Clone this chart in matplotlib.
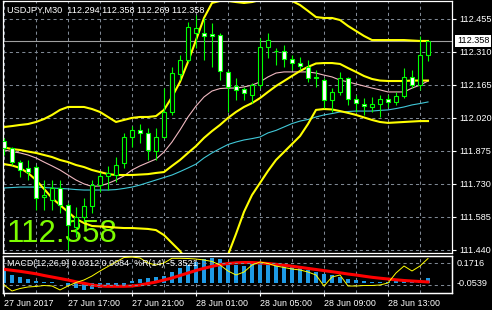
import matplotlib
matplotlib.use('Agg')
import matplotlib.pyplot as plt
import matplotlib.transforms as mtransforms
import numpy as np

# ---------------- data ----------------
symbol_header = "USDJPY,M30  112.294 112.358 112.269 112.358"
macd_header = "MACD(12,26,9) 0.0312 0.0084  %R(14) -5.3521"
last_price = 112.358
time_labels = ["27 Jun 2017", "27 Jun 17:00", "27 Jun 21:00", "28 Jun 01:00",
               "28 Jun 05:00", "28 Jun 09:00", "28 Jun 13:00"]
time_label_idx = [0, 8, 16, 24, 32, 40, 48]
price_ticks = [112.455, 112.310, 112.165, 112.020, 111.875, 111.730, 111.585, 111.440]
sub_labels = ["0.1716", "-0.0539"]

opens = [111.917, 111.887, 111.825, 111.799, 111.803, 111.671, 111.658, 111.711, 111.636, 111.540,
         111.584, 111.632, 111.724, 111.764, 111.768, 111.821, 111.935, 111.964, 111.953, 111.874,
         111.935, 112.045, 112.212, 112.273, 112.392, 112.394, 112.388, 112.385, 112.221, 112.159,
         112.146, 112.120, 112.163, 112.332, 112.315, 112.313, 112.276, 112.262, 112.244, 112.199,
         112.185, 112.098, 112.133, 112.196, 112.100, 112.082, 112.069, 112.080, 112.104, 112.087,
         112.115, 112.199, 112.163, 112.294]
highs = [111.931, 111.891, 111.834, 111.834, 111.812, 111.746, 111.746, 111.746, 111.645, 111.627,
         111.667, 111.746, 111.781, 111.808, 111.847, 111.953, 111.983, 111.992, 111.975, 111.975,
         112.150, 112.243, 112.295, 112.440, 112.471, 112.458, 112.436, 112.392, 112.229, 112.194,
         112.155, 112.172, 112.370, 112.391, 112.326, 112.339, 112.295, 112.288, 112.273, 112.229,
         112.193, 112.149, 112.222, 112.200, 112.120, 112.105, 112.112, 112.120, 112.120, 112.134,
         112.237, 112.229, 112.379, 112.358]
lows = [111.856, 111.812, 111.759, 111.746, 111.614, 111.614, 111.614, 111.601, 111.439, 111.496,
        111.562, 111.601, 111.693, 111.702, 111.737, 111.799, 111.891, 111.909, 111.834, 111.834,
        111.931, 112.032, 112.185, 112.265, 112.326, 112.273, 112.243, 112.185, 112.045, 112.098,
        112.098, 112.084, 112.150, 112.281, 112.251, 112.244, 112.229, 112.229, 112.178, 112.156,
        112.061, 112.046, 112.120, 112.076, 112.046, 112.032, 112.046, 112.024, 112.067, 112.076,
        112.105, 112.149, 112.142, 112.269]
closes = [111.887, 111.825, 111.790, 111.781, 111.667, 111.680, 111.711, 111.636, 111.548, 111.584,
          111.632, 111.724, 111.764, 111.777, 111.812, 111.935, 111.966, 111.953, 111.878, 111.935,
          112.045, 112.216, 112.273, 112.418, 112.416, 112.379, 112.379, 112.225, 112.155, 112.142,
          112.128, 112.163, 112.330, 112.363, 112.313, 112.278, 112.262, 112.245, 112.194, 112.194,
          112.098, 112.133, 112.194, 112.102, 112.084, 112.071, 112.078, 112.100, 112.087, 112.115,
          112.199, 112.163, 112.295, 112.358]

bb_upper = [111.979, 111.983, 111.988, 111.992, 112.001, 112.014, 112.032, 112.054, 112.067, 112.067,
            112.067, 112.058, 112.045, 112.023, 112.001, 112.010, 112.019, 112.023, 112.023, 112.027,
            112.054, 112.111, 112.177, 112.265, 112.361, 112.458, 112.524, 112.533, 112.533, 112.528,
            112.524, 112.528, 112.537, 112.550, 112.550, 112.550, 112.533, 112.515, 112.489, 112.462,
            112.458, 112.458, 112.449, 112.423, 112.401, 112.379, 112.361, 112.361, 112.361, 112.361,
            112.361, 112.359, 112.357, 112.357]
bb_mid = [111.889, 111.882, 111.878, 111.871, 111.865, 111.856, 111.847, 111.834, 111.825, 111.812,
          111.803, 111.790, 111.781, 111.772, 111.768, 111.768, 111.768, 111.770, 111.772, 111.777,
          111.781, 111.808, 111.834, 111.865, 111.895, 111.931, 111.961, 111.988, 112.019, 112.045,
          112.067, 112.084, 112.106, 112.133, 112.159, 112.181, 112.203, 112.225, 112.243, 112.258,
          112.260, 112.260, 112.256, 112.238, 112.221, 112.203, 112.190, 112.183, 112.181, 112.181,
          112.181, 112.183, 112.183, 112.183]
bb_lower = [111.816, 111.810, 111.799, 111.777, 111.746, 111.707, 111.667, 111.636, 111.606, 111.575,
            111.557, 111.544, 111.542, 111.540, 111.537, 111.535, 111.535, 111.533, 111.531, 111.526,
            111.504, 111.469, 111.434, 111.386, 111.329, 111.285, 111.285, 111.359, 111.417, 111.509,
            111.606, 111.680, 111.733, 111.786, 111.834, 111.869, 111.904, 111.939, 111.992, 112.054,
            112.058, 112.056, 112.049, 112.041, 112.032, 112.021, 112.010, 112.001, 111.997, 111.999,
            112.001, 112.003, 112.005, 112.005]
ma_fast = [111.878, 111.871, 111.865, 111.856, 111.843, 111.825, 111.808, 111.790, 111.768, 111.746,
           111.729, 111.718, 111.720, 111.731, 111.746, 111.764, 111.790, 111.808, 111.823, 111.838,
           111.869, 111.913, 111.966, 112.023, 112.071, 112.111, 112.137, 112.148, 112.150, 112.150,
           112.155, 112.163, 112.177, 112.199, 112.216, 112.221, 112.221, 112.221, 112.221, 112.216,
           112.207, 112.199, 112.185, 112.177, 112.168, 112.159, 112.150, 112.142, 112.133, 112.133,
           112.133, 112.150, 112.163, 112.181]
ma_slow = [111.711, 111.713, 111.715, 111.715, 111.715, 111.713, 111.711, 111.709, 111.707, 111.704,
           111.702, 111.702, 111.702, 111.702, 111.704, 111.709, 111.715, 111.724, 111.735, 111.746,
           111.757, 111.768, 111.783, 111.799, 111.816, 111.843, 111.865, 111.884, 111.902, 111.913,
           111.922, 111.928, 111.935, 111.953, 111.964, 111.979, 111.994, 112.005, 112.012, 112.023,
           112.032, 112.038, 112.045, 112.047, 112.049, 112.049, 112.049, 112.052, 112.054, 112.060,
           112.067, 112.076, 112.082, 112.089]

macd_main = [0.083, 0.052, 0.041, 0.025, 0.016, 0.010, 0.006, 0.004, -0.008, -0.031,
             -0.042, -0.036, -0.028, -0.021, -0.015, -0.011, 0.016, 0.025, 0.031, 0.038,
             0.046, 0.069, 0.094, 0.114, 0.135, 0.150, 0.156, 0.152, 0.129, 0.114,
             0.108, 0.121, 0.129, 0.125, 0.121, 0.108, 0.104, 0.094, 0.083, 0.069,
             0.056, 0.052, 0.041, 0.025, 0.021, 0.016, 0.010, 0.010, 0.010, 0.0125,
             0.0125, 0.016, 0.021, 0.0312]
macd_signal = [0.0875, 0.0813, 0.0750, 0.0675, 0.0594, 0.0488, 0.0394, 0.0300, 0.0206, 0.0094,
               0.0000, -0.0106, -0.0169, -0.0188, -0.0188, -0.0188, -0.0169, -0.0106, -0.0013, 0.0081,
               0.0206, 0.0331, 0.0488, 0.0644, 0.0800, 0.0938, 0.1063, 0.1163, 0.1238, 0.1281,
               0.1300, 0.1300, 0.1269, 0.1238, 0.1188, 0.1131, 0.1069, 0.1000, 0.0931, 0.0863,
               0.0794, 0.0725, 0.0656, 0.0581, 0.0519, 0.0444, 0.0375, 0.0319, 0.0269, 0.0219,
               0.0175, 0.0144, 0.0113, 0.0084]
wpr = [-80.9, -97.5, -90.6, -86.4, -85.0, -82.3, -83.7, -94.7, -83.7, -74.0,
       -67.0, -56.0, -42.1, -29.6, -17.2, -4.7, -3.3, -6.1, -19.9, -25.5,
       -19.9, -6.9, -6.9, -7.5, -8.9, -11.6, -15.8, -25.5, -42.1, -53.2,
       -44.9, -25.5, -17.2, -21.3, -28.3, -32.4, -36.6, -39.3, -44.9, -53.2,
       -83.7, -58.7, -53.2, -83.7, -83.7, -82.3, -82.3, -80.9, -75.3, -47.6,
       -28.3, -42.1, -28.3, -7.5]
wpr_levels = [-20, -80]

# ---------------- styling ----------------
W, H = 492, 310
FONT = ['Liberation Sans', 'DejaVu Sans']
plt.rcParams['font.family'] = FONT
GRID = '#7f8894'
CANDLE = '#00ff00'

def px_rect(x0, y0, x1, y1):
    return [x0 / W, 1 - y1 / H, (x1 - x0) / W, (y1 - y0) / H]

fig = plt.figure(figsize=(W / 100, H / 100), dpi=100, facecolor='black')
ax = fig.add_axes(px_rect(3, 0.5, 452, 253))
axm = fig.add_axes(px_rect(3, 255.5, 452, 292.5))

x = np.arange(len(opens))
o = np.array(opens); h = np.array(highs); l = np.array(lows); c = np.array(closes)

for a in (ax, axm):
    a.set_facecolor('black')
    a.set_xlim(-0.125, 56)
    for s in a.spines.values():
        s.set_color('white')
        s.set_linewidth(0.9)
    for k in range(0, len(opens), 4):
        a.axvline(k, color=GRID, lw=0.75, ls=(0, (3, 3)), zorder=0.5)

# ---- main window ----
ax.set_ylim(111.4253, 112.5348)
for p in price_ticks:
    ax.axhline(p, color=GRID, lw=0.75, ls=(0, (3, 3)), zorder=0.5)

ax.text((7 - 3) / 449, (253 - 242) / 252.5, f"{last_price:.3f}", transform=ax.transAxes,
        color='#7cfc00', fontsize=22.5, va='baseline', ha='left', zorder=1)

ax.axhline(last_price, color='#a0a0a0', lw=0.8, zorder=1.5)

ax.plot(x, ma_slow, color='#40c8d8', lw=0.8, zorder=2)
ax.plot(x, ma_fast, color='#f0b8c0', lw=0.8, zorder=2)
for band in (bb_upper, bb_mid, bb_lower):
    ax.plot(x, band, color='#ffff00', lw=1.5, zorder=2.5)

ax.vlines(x, l, h, color=CANDLE, lw=0.8, zorder=3)
bull = c >= o
ax.bar(x, np.abs(c - o), bottom=np.minimum(o, c), width=0.55,
       color=np.where(bull, 'black', 'white'), edgecolor=CANDLE, linewidth=0.8, zorder=4)

ax.set_xticks([])
ax.yaxis.tick_right()
ax.set_yticks(price_ticks)
ax.set_yticklabels([f"{p:.3f}" for p in price_ticks])
ax.tick_params(axis='y', colors='white', length=3, width=0.8, pad=2, labelsize=6.6)

ax.text((7 - 3) / 449, (253 - 10.5) / 252.5, symbol_header, transform=ax.transAxes,
        color='white', fontsize=6.6, va='center', ha='left', zorder=10)

trans = mtransforms.blended_transform_factory(ax.transAxes, ax.transData)
ax.text(1.0 + 5 / 449, last_price, f"{last_price:.3f}", transform=trans, color='black',
        fontsize=6.6, va='center', ha='left', zorder=10,
        bbox=dict(boxstyle='square,pad=0.18', facecolor='white', edgecolor='none'))

# ---- MACD + %R subwindow ----
axm.set_ylim(-0.0575, 0.1738)
axm.bar(x, macd_main, width=0.55, color='#1e9be6', zorder=2)
axm.plot(x, macd_signal, color='#ff0000', lw=2.2, zorder=3)
axw = axm.twinx()
axw.set_ylim(-101.7, 0.83)
axw.set_xlim(-0.125, 56)
for lev in wpr_levels:
    axw.axhline(lev, color=GRID, lw=0.75, ls=(0, (3, 3)), zorder=1)
axw.plot(x, wpr, color='#ffff00', lw=0.7, zorder=4)
axw.set_yticks([])
for s in axw.spines.values():
    s.set_color('white')
    s.set_linewidth(0.9)

axm.set_yticks([])
axm.set_xticks(time_label_idx)
axm.set_xticklabels(time_labels)
for lab in axm.get_xticklabels():
    lab.set_ha('left')
axm.tick_params(axis='x', colors='white', length=2.5, width=0.8, pad=2, labelsize=6.4)

axw.text((7 - 3) / 449, (292.5 - 263.5) / 37, macd_header, transform=axw.transAxes,
         color='white', fontsize=6.4, va='center', ha='left', zorder=10)

fig.text(457 / W, 1 - 263.5 / H, sub_labels[0], color='white', fontsize=6.6, va='center', ha='left')
fig.text(457 / W, 1 - 283.5 / H, sub_labels[1], color='white', fontsize=6.6, va='center', ha='left')

fig.savefig('out.png', dpi=100, facecolor='black')
